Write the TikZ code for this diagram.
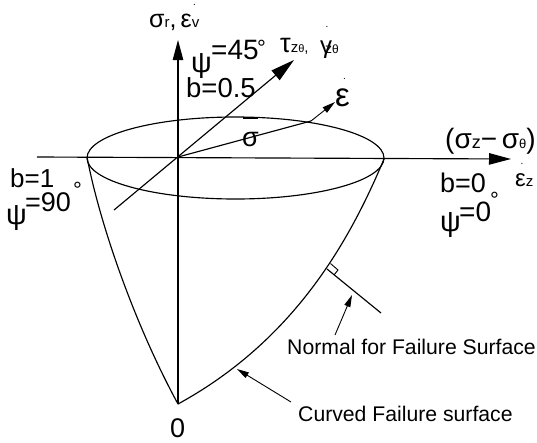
\documentclass[tikz,border=0pt]{standalone}
\usepackage{fontspec}
\setmainfont{Liberation Sans}
\usetikzlibrary{arrows.meta}
\newcommand{\fs}[1]{\fontsize{#1}{#1}\selectfont}
\tikzset{
  ln/.style={line width=1.15pt,black},
  thinln/.style={line width=0.9pt,black},
  arr/.style={-{Triangle[length=#1,width'=0pt .52]}},
  lab/.style={inner sep=0pt,font=\fs{#1},anchor=west},
  deg/.style={inner sep=0pt,font=\fs{#1},anchor=north west},
  dotm/.style={inner sep=0pt,font=\fs{#1}}
}
\begin{document}
\begin{tikzpicture}[x=1pt,y=-1pt]
\useasboundingbox (0,0) rectangle (537,442);
\coordinate (O) at (178,157);
\coordinate (L) at (87,157);
\coordinate (R) at (384,159);
\coordinate (B) at (178,404);
\coordinate (ZT) at (178,40);
\coordinate (XL) at (37,157);
\coordinate (XT) at (511,159);
\coordinate (DL) at (114,210);
\coordinate (DT) at (294,60);
\coordinate (EP) at (311,121);
\coordinate (ET) at (335,102);
\coordinate (N0) at (327,269);
\coordinate (N1) at (381,313);
\coordinate (NA0) at (335,335);
\coordinate (NA1) at (352,295);
\coordinate (CA0) at (291,402);
\coordinate (CA1) at (237,369);
% axes
\draw[ln,arr=20pt] (B) -- (ZT);
\draw[ln,arr=22pt] (XL) -- (XT);
\draw[ln,arr=24pt] (DL) -- (DT);
\draw[ln] (O) -- (EP);
\draw[thinln,arr=13pt] (EP) -- (ET);
% ellipse
\draw[ln] (235.5,158) ellipse [x radius=148.5,y radius=41];
% surface
\draw[ln] (L) .. controls (100,225) and (135,325) .. (B);
\draw[ln] (R) .. controls (350,240) and (295,340) .. (B);
% normal
\draw[ln] (N0) -- (N1);
\draw[thinln] (330.5,263.5) -- (338,270) -- (334,275);
\draw[thinln,arr=12pt] (NA0) -- (NA1);
\draw[thinln,arr=12pt] (CA0) -- (CA1);
% labels
\node[lab=25] (t1) at (149,22) {σ\fs{15}r\fs{25},\,ε\fs{15}v};
\node[dotm=10] (t1d) at (194.5,5) {.};
\node[lab=29] (psi45) at (191,66) {ψ};
\node[lab=28] (e45) at (211,50) {=45};
\node[deg=22] (d45) at (257,40) {°};
\node[lab=27.5] (b05) at (186,88) {b=0.5};
\node[lab=27] (s1) at (280,46) {τ\fs{15}z\fs{11}θ\fs{15},};
\node[lab=24] (g1) at (320,50) {γ\hspace{-7pt}\fs{14}z\fs{12}θ};
\node[dotm=10] (g1d) at (327,27) {.};
\node[lab=33] (eps) at (335,98) {ε};
\node[dotm=10] (epsd) at (344.5,79) {.};
\node[lab=27] (sig) at (242,139) {σ};
\draw[line width=1.1pt] (243,118) -- (258,118);
\node[lab=28] (st) at (445,141) {(σ\fs{18}z\fs{28}−\,σ\fs{13}θ\fs{28})};
\node[lab=27] (b0) at (440,183) {b=0};
\node[deg=22] (d0) at (490,192) {°};
\node[lab=24] (ez) at (515,180) {ε\fs{15}z};
\node[dotm=10] (ezd) at (522,164) {.};
\node[lab=29] (psi0) at (440,225) {ψ};
\node[lab=28] (e0) at (459,212) {=0};
\node[lab=26] (b1) at (10,178) {b=1};
\node[deg=22] (d90) at (73,182) {°};
\node[lab=29] (psi90) at (6,218) {ψ};
\node[lab=27] (e90) at (25,202) {=90};
\node[lab=21.2] (nfs) at (287,347) {Normal for Failure Surface};
\node[lab=21.2] (cfs) at (298,414) {Curved Failure surface};
\node[lab=27] (zero) at (170,428) {0};
\end{tikzpicture}
\end{document}
